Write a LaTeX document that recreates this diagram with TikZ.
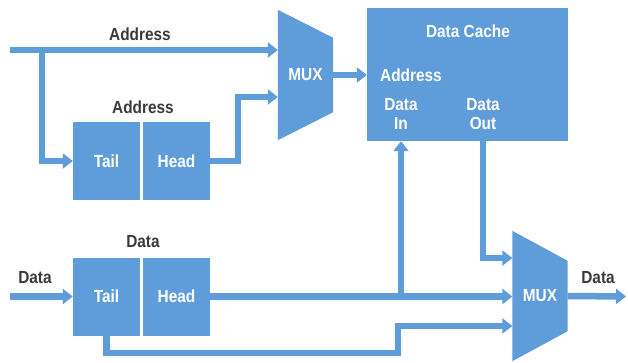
\documentclass[tikz,border=0pt]{standalone}
\usepackage{fontspec}
\setsansfont{Liberation Sans}[FakeStretch=0.88]
\usetikzlibrary{arrows.meta, positioning, calc, backgrounds}
\definecolor{blockblue}{HTML}{5E9CDA}
\definecolor{labelgray}{HTML}{3A3A3A}

\begin{document}
\begin{tikzpicture}[x=1pt, y=-1pt,
    every node/.style={font=\sffamily\bfseries\fontsize{17.5}{19}\selectfont},
    blk/.style={fill=blockblue, text=white, inner sep=0pt},
    half/.style={blk, minimum width=67pt, minimum height=78pt},
    mux/.style={text=white, inner sep=0pt, minimum width=55pt, minimum height=130pt},
    lbl/.style={text=labelgray, inner sep=0pt},
    inlbl/.style={text=white, inner sep=0pt, align=center},
    arr/.style={-{Triangle[length=10pt, width=15pt]}, line width=6.5pt, draw=blockblue}
]
    \useasboundingbox (0,0) rectangle (628,362);

    % address queue
    \node[half] (atail) at (106.5, 161) {Tail};
    \node[half] (ahead) at (176.5, 161) {Head};
    \node[lbl] (aqlbl) at (143, 107) {Address};

    % data queue
    \node[half] (dtail) at (106.5, 296.5) {Tail};
    \node[half] (dhead) at (176.5, 296.5) {Head};
    \node[lbl] (dqlbl) at (143, 242) {Data};

    % cache
    \node[blk, minimum width=201pt, minimum height=133pt] (cache) at (467.5, 74.5) {};
    \node[inlbl] (cachelbl) at (468, 31) {Data Cache};
    \node[inlbl] (caddr) at (411, 75) {Address};
    \node[inlbl] (cdin) at (401, 114) {Data\\In};
    \node[inlbl] (cdout) at (483, 114) {Data\\Out};

    % multiplexers
    \node[mux] (mux1) at (305.5, 75) {MUX};
    \node[mux] (mux2) at (540, 296) {MUX};
    \begin{scope}[on background layer]
        \fill[blockblue] (mux1.north west) -- ($(mux1.north east)+(0,28)$)
            -- ($(mux1.south east)+(0,-28)$) -- (mux1.south west) -- cycle;
        \fill[blockblue] (mux2.north west) -- ($(mux2.north east)+(0,30)$)
            -- ($(mux2.south east)+(0,-30)$) -- (mux2.south west) -- cycle;
    \end{scope}

    \coordinate (ain) at (10, 50);
    \coordinate (asplit) at (42, 50);
    \coordinate (din) at (10, 296.5);
    \coordinate (dout) at (626, 296.5);
    \coordinate (bend) at (398, 353);
    \coordinate (m1in2) at ($(mux1.west)+(0,22)$);
    \coordinate (m2in1) at ($(mux2.west)+(0,-38)$);
    \coordinate (m2in3) at ($(mux2.west)+(0,30)$);

    \node[lbl] (ainlbl) at (140, 34) {Address};
    \node[lbl] (dinlbl) at (35, 278) {Data};
    \node[lbl] (doutlbl) at (598, 278) {Data};

    \draw[arr] (ain) -- (ain -| mux1.west);
    \draw[arr] (asplit) |- (atail.west);
    \draw[arr] (ahead.east) -- ++(28,0) |- (m1in2);
    \draw[arr] (mux1.east) -- (mux1.east -| cache.west);

    \draw[arr] (din) -- (dtail.west);
    \draw[arr] (dhead.east) -- (dhead.east -| mux2.west);
    \draw[arr] (dhead.east -| cdin) -- (cdin |- cache.south);
    \draw[arr] (cdout |- cache.south) |- (m2in1);
    \draw[arr] (dtail.south) |- (bend) |- (m2in3);
    \draw[arr] (mux2.east) -- (dout);
\end{tikzpicture}
\end{document}
